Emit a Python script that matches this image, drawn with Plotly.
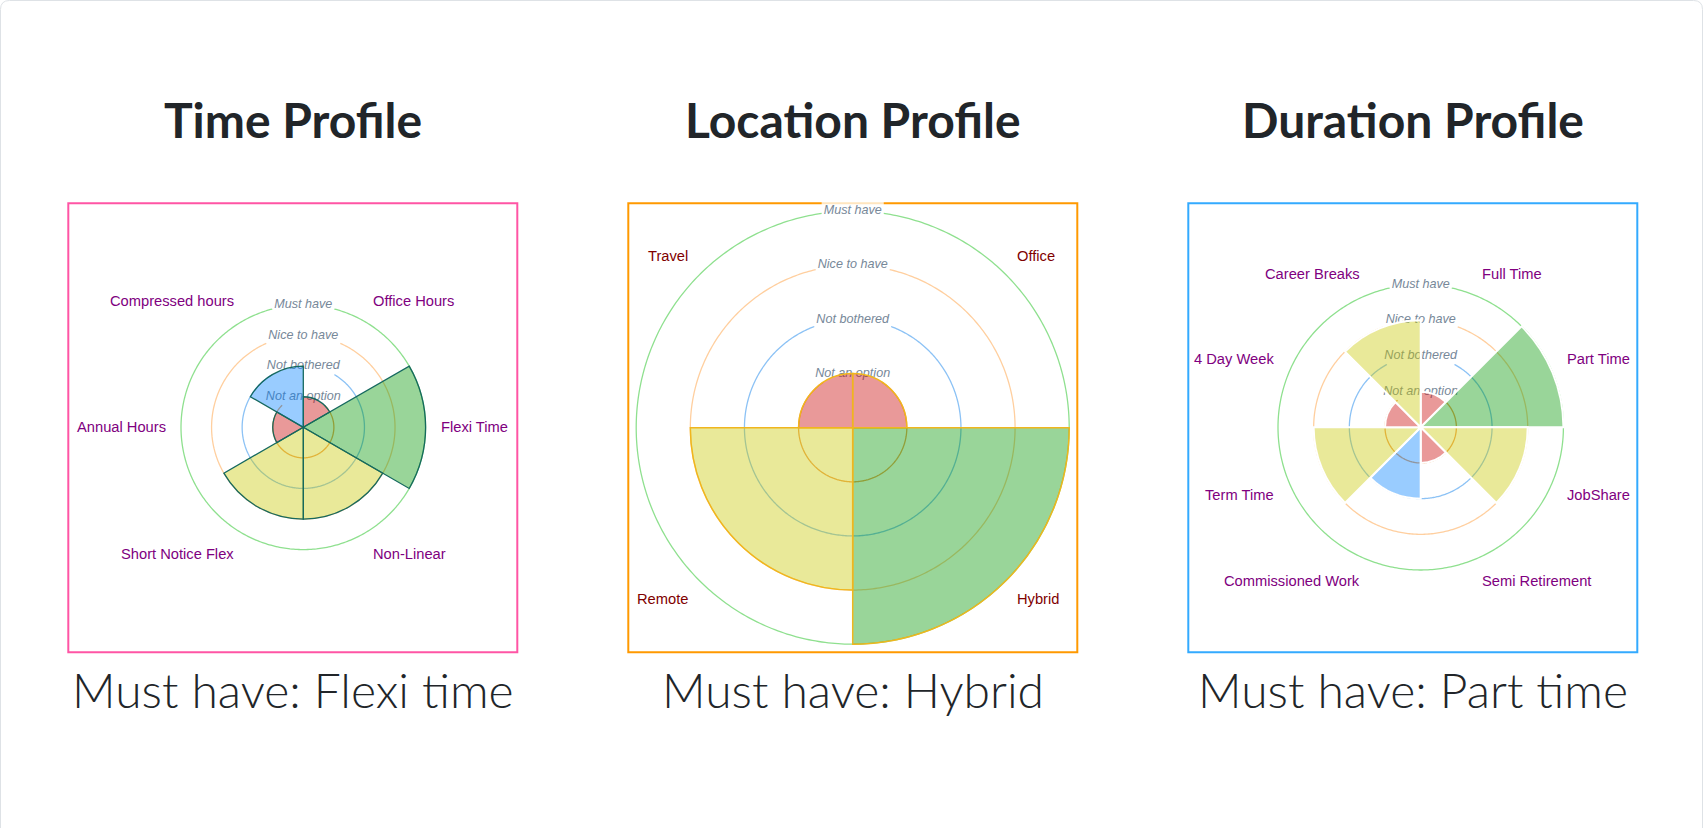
import math
import numpy as np
import plotly.graph_objects as go

W, H = 1704, 828

# ---------------- data ----------------
level_labels = ["Not an option", "Not bothered", "Nice to have", "Must have"]
level_values = [1, 2, 3, 4]

time_labels = ["Office Hours", "Flexi Time", "Non-Linear", "Short Notice Flex",
               "Annual Hours", "Compressed hours"]
time_values = [1, 4, 3, 3, 1, 2]

location_labels = ["Office", "Hybrid", "Remote", "Travel"]
location_values = [1, 4, 3, 1]

duration_labels = ["Full Time", "Part Time", "JobShare", "Semi Retirement",
                   "Commissioned Work", "Term Time", "4 Day Week", "Career Breaks"]
duration_values = [1, 4, 3, 1, 2, 3, 1, 3]

titles = ["Time Profile", "Location Profile", "Duration Profile"]
subtitles = ["Must have: Flexi time", "Must have: Hybrid", "Must have: Part time"]

# ---------------- styles ----------------
value_colors = {1: "rgba(200,0,0,0.4)", 2: "rgba(0,128,255,0.4)",
                3: "rgba(200,200,0,0.4)", 4: "rgba(0,150,0,0.4)"}
ring_colors = ["#f2a55e", "#8cc2f5", "#ffcf9f", "#8fe08f"]
TICK_COLOR = "#778899"
SANS = "Liberation Sans, Arial, sans-serif"
TICK_SIZE = 12.6
LABEL_SIZE = 14.7

panels = [
    dict(labels=time_labels, values=time_values, cx=303.3, cy=427.3, R=122.3,
         box_x=68.3, box_color="#ff55a5", seg_line="rgb(22,105,95)", seg_w=1.3,
         label_color="#800080"),
    dict(labels=location_labels, values=location_values, cx=852.7, cy=427.7, R=216.5,
         box_x=628.3, box_color="#ff9900", seg_line="rgb(240,182,30)", seg_w=1.5,
         label_color="#800000"),
    dict(labels=duration_labels, values=duration_values, cx=1420.7, cy=427.3, R=142.7,
         box_x=1188.3, box_color="#33aaff", seg_line="#ffffff", seg_w=2,
         label_color="#800080"),
]
BOX_Y, BOX_S = 203.3, 449.0
RMAX = 4.06
LABEL_PAD = 14.5

# Arial advance widths (em) for tick-label backdrop sizing
CW = {'N': .722, 'o': .556, 't': .278, ' ': .278, 'a': .556, 'n': .556, 'p': .556,
      'i': .222, 'b': .556, 'h': .556, 'e': .556, 'r': .333, 'd': .556, 'c': .5,
      'v': .5, 'M': .833, 'u': .556, 's': .5}


def text_w(s, size):
    return sum(CW.get(ch, .556) for ch in s) * size


def px(x):
    return x / W


def py(y):
    return 1 - y / H


fig = go.Figure()
layout_polars = {}
annotations = []
shapes = []

# page card outline
r0 = 9
card = (f"M {px(0.5)},{py(H)} L {px(0.5)},{py(0.5 + r0)} Q {px(0.5)},{py(0.5)} {px(0.5 + r0)},{py(0.5)} "
        f"L {px(W - 1.5 - r0)},{py(0.5)} Q {px(W - 1.5)},{py(0.5)} {px(W - 1.5)},{py(0.5 + r0)} L {px(W - 1.5)},{py(H)}")
shapes.append(dict(type="path", path=card, xref="paper", yref="paper",
                   line=dict(color="#dee2e6", width=1), layer="below"))

n_p = len(panels)
# lower layers: rings + tick labels
for i, p in enumerate(panels):
    pid = "polar" if i == 0 else f"polar{i + 1}"
    for k, lab in zip(level_values, level_labels):
        r_px = p["R"] * k / 4
        w = text_w(lab, TICK_SIZE) + 4
        h = 17
        t1 = math.asin(min(1.0, (w / 2) / r_px))
        t2 = math.acos(max(-1.0, min(1.0, (r_px - h / 2) / r_px)))
        gap = math.degrees(min(t1, t2))
        th = np.linspace(gap, 360 - gap, 400)
        fig.add_trace(go.Scatterpolar(r=[k] * len(th), theta=th, mode="lines",
                                      line=dict(color=ring_colors[k - 1], width=1.3),
                                      subplot=pid, hoverinfo="skip", showlegend=False,
                                      cliponaxis=False))
    fig.add_trace(go.Scatterpolar(r=level_values, theta=[0] * len(level_values),
                                  mode="text", text=level_labels,
                                  textposition="middle center",
                                  textfont=dict(family=SANS, size=TICK_SIZE, color=TICK_COLOR,
                                                style="italic"),
                                  subplot=pid, hoverinfo="skip", showlegend=False,
                                  cliponaxis=False))

# upper layers: bars
for i, p in enumerate(panels):
    pid = f"polar{n_p + i + 1}"
    n = len(p["labels"])
    step = 360 / n
    fig.add_trace(go.Barpolar(
        r=p["values"], theta=[(j + 0.5) * step for j in range(n)], width=[step] * n,
        marker=dict(color=[value_colors[v] for v in p["values"]],
                    line=dict(color=p["seg_line"], width=p["seg_w"])),
        text=p["labels"], hoverinfo="text", subplot=pid, showlegend=False))


def polar_layout(cx, cy, R):
    Rr = R * RMAX / 4
    return dict(
        domain=dict(x=[px(cx - Rr), px(cx + Rr)], y=[py(cy + Rr), py(cy - Rr)]),
        bgcolor="rgba(0,0,0,0)",
        radialaxis=dict(range=[0, RMAX], showline=False, showgrid=False,
                        showticklabels=False, ticks=""),
        angularaxis=dict(rotation=90, direction="clockwise", showline=False,
                         showgrid=False, showticklabels=False, ticks=""),
    )


for i, p in enumerate(panels):
    lid = "polar" if i == 0 else f"polar{i + 1}"
    uid = f"polar{n_p + i + 1}"
    layout_polars[lid] = polar_layout(p["cx"], p["cy"], p["R"])
    layout_polars[uid] = polar_layout(p["cx"], p["cy"], p["R"])

    # frame
    bx = p["box_x"]
    shapes.append(dict(type="rect", xref="paper", yref="paper",
                       x0=px(bx), x1=px(bx + BOX_S), y0=py(BOX_Y + BOX_S), y1=py(BOX_Y),
                       line=dict(color=p["box_color"], width=2), layer="below"))
    # tick backdrop over frame (only where the outer label reaches it)
    top_lab_y = p["cy"] - p["R"]
    if top_lab_y - 9 < BOX_Y + 1.5:
        w = text_w(level_labels[-1], TICK_SIZE) + 4
        shapes.append(dict(type="rect", xref="paper", yref="paper",
                           x0=px(p["cx"] - w / 2), x1=px(p["cx"] + w / 2),
                           y0=py(BOX_Y + 1.6), y1=py(BOX_Y - 1.6),
                           fillcolor="rgba(255,255,255,0.75)", line=dict(width=0),
                           layer="below"))

    # point labels
    n = len(p["labels"])
    d = p["R"] + LABEL_PAD
    for j, lab in enumerate(p["labels"]):
        ang = (j + 0.5) * 360 / n
        a = math.radians(ang)
        ax = p["cx"] + d * math.sin(a)
        ay = p["cy"] - d * math.cos(a)
        if abs(ang) < 1e-6 or abs(ang - 180) < 1e-6:
            xa = "center"
        elif ang < 180:
            xa = "left"
        else:
            xa = "right"
        if abs(ang - 90) < 1e-6 or abs(ang - 270) < 1e-6:
            yc = ay
        elif ang < 90 or ang > 270:
            yc = ay - 8
        else:
            yc = ay + 8
        annotations.append(dict(text=lab, x=px(ax), y=py(yc), xref="paper", yref="paper",
                                xanchor=xa, yanchor="middle", showarrow=False, borderpad=0,
                                font=dict(family=SANS, size=LABEL_SIZE, color=p["label_color"])))

    # title and caption
    bcx = bx + BOX_S / 2
    annotations.append(dict(text=titles[i], x=px(bcx), y=py(120), xref="paper", yref="paper",
                            xanchor="center", yanchor="middle", showarrow=False,
                            font=dict(family="Lato", size=48, weight=700, color="#212529")))
    annotations.append(dict(text=subtitles[i], x=px(bcx), y=py(689), xref="paper", yref="paper",
                            xanchor="center", yanchor="middle", showarrow=False,
                            font=dict(family="Lato", size=48, weight=300, color="#212529")))

fig.update_layout(
    width=W, height=H, autosize=False,
    margin=dict(l=0, r=0, t=0, b=0, pad=0),
    paper_bgcolor="white", plot_bgcolor="white",
    showlegend=False,
    annotations=annotations, shapes=shapes,
    **layout_polars,
)

fig.write_html("out.html", config={"displayModeBar": False},
               post_script="document.body.style.margin='0px';document.body.style.overflow='hidden';")
